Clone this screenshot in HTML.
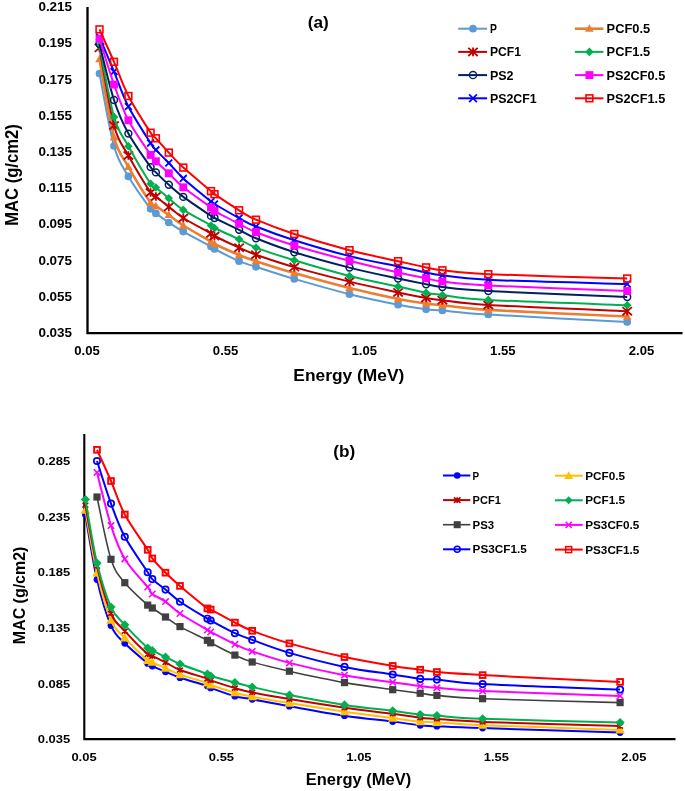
<!DOCTYPE html>
<html><head><meta charset="utf-8"><title>MAC vs Energy</title>
<style>
html,body{margin:0;padding:0;background:#fff;}
body{width:685px;height:791px;overflow:hidden;font-family:"Liberation Sans",sans-serif;}
svg{display:block;will-change:transform;}
text{font-family:"Liberation Sans",sans-serif;font-weight:bold;}
</style></head><body>
<svg width="685" height="791" viewBox="0 0 685 791">
<rect width="685" height="791" fill="#fff"/>
<path d="M87.5 7V333.1H682.5" fill="none" stroke="#000" stroke-width="2.3"/>
<path d="M84.3 434V739.1H675.5" fill="none" stroke="#000" stroke-width="2.1"/>
<path d="M99.5 73.5 C101.92 85.58 109.18 128.85 114 146 C118.82 163.15 122.3 165.93 128.4 176.4 C134.5 186.87 146.02 202.63 150.6 208.8 C155.18 214.97 152.87 211.12 155.9 213.4 C158.93 215.68 164.23 219.47 168.8 222.5 C173.37 225.53 176.27 227.6 183.3 231.6 C190.33 235.6 205.8 243.6 211 246.5 C216.2 249.4 209.82 246.55 214.5 249 C219.18 251.45 232.18 258.23 239.1 261.2 C246.02 264.17 246.8 263.85 256 266.8 C265.2 269.75 278.72 274.33 294.3 278.9 C309.88 283.47 332.2 289.9 349.5 294.2 C366.8 298.5 385.33 302.18 398.1 304.7 C410.87 307.22 418.72 308.33 426.1 309.3 C433.48 310.27 432.03 309.63 442.4 310.5 C452.77 311.37 457.5 312.6 488.3 314.5 C519.1 316.4 604.05 320.67 627.2 321.9" fill="none" stroke="#5B9BD5" stroke-width="2" stroke-linejoin="round"/>
<circle cx="99.5" cy="73.5" r="3.85" fill="#5B9BD5"/>
<circle cx="114" cy="146" r="3.85" fill="#5B9BD5"/>
<circle cx="128.4" cy="176.4" r="3.85" fill="#5B9BD5"/>
<circle cx="150.6" cy="208.8" r="3.85" fill="#5B9BD5"/>
<circle cx="155.9" cy="213.4" r="3.85" fill="#5B9BD5"/>
<circle cx="168.8" cy="222.5" r="3.85" fill="#5B9BD5"/>
<circle cx="183.3" cy="231.6" r="3.85" fill="#5B9BD5"/>
<circle cx="211" cy="246.5" r="3.85" fill="#5B9BD5"/>
<circle cx="214.5" cy="249" r="3.85" fill="#5B9BD5"/>
<circle cx="239.1" cy="261.2" r="3.85" fill="#5B9BD5"/>
<circle cx="256" cy="266.8" r="3.85" fill="#5B9BD5"/>
<circle cx="294.3" cy="278.9" r="3.85" fill="#5B9BD5"/>
<circle cx="349.5" cy="294.2" r="3.85" fill="#5B9BD5"/>
<circle cx="398.1" cy="304.7" r="3.85" fill="#5B9BD5"/>
<circle cx="426.1" cy="309.3" r="3.85" fill="#5B9BD5"/>
<circle cx="442.4" cy="310.5" r="3.85" fill="#5B9BD5"/>
<circle cx="488.3" cy="314.5" r="3.85" fill="#5B9BD5"/>
<circle cx="627.2" cy="321.9" r="3.85" fill="#5B9BD5"/>
<path d="M99.5 59.2 C101.92 72.2 109.18 119.27 114 137.2 C118.82 155.13 122.3 155.87 128.4 166.8 C134.5 177.73 146.02 196.25 150.6 202.8 C155.18 209.35 152.87 204.08 155.9 206.1 C158.93 208.12 164.23 211.67 168.8 214.9 C173.37 218.13 176.27 221.07 183.3 225.5 C190.33 229.93 205.8 238.42 211 241.5 C216.2 244.58 209.82 241.75 214.5 244 C219.18 246.25 232.18 252.13 239.1 255 C246.02 257.87 246.8 258.18 256 261.2 C265.2 264.22 278.72 268.62 294.3 273.1 C309.88 277.58 332.2 283.78 349.5 288.1 C366.8 292.42 385.33 296.42 398.1 299 C410.87 301.58 418.72 302.57 426.1 303.6 C433.48 304.63 432.03 304.15 442.4 305.2 C452.77 306.25 457.5 308.02 488.3 309.9 C519.1 311.78 604.05 315.4 627.2 316.5" fill="none" stroke="#ED7D31" stroke-width="2.6" stroke-linejoin="round"/>
<path d="M99.5 54.8L103.81 62.37L95.19 62.37Z" fill="#ED7D31"/>
<path d="M114 132.8L118.31 140.37L109.69 140.37Z" fill="#ED7D31"/>
<path d="M128.4 162.4L132.71 169.97L124.09 169.97Z" fill="#ED7D31"/>
<path d="M150.6 198.4L154.91 205.97L146.29 205.97Z" fill="#ED7D31"/>
<path d="M155.9 201.7L160.21 209.27L151.59 209.27Z" fill="#ED7D31"/>
<path d="M168.8 210.5L173.11 218.07L164.49 218.07Z" fill="#ED7D31"/>
<path d="M183.3 221.1L187.61 228.67L178.99 228.67Z" fill="#ED7D31"/>
<path d="M211 237.1L215.31 244.67L206.69 244.67Z" fill="#ED7D31"/>
<path d="M214.5 239.6L218.81 247.17L210.19 247.17Z" fill="#ED7D31"/>
<path d="M239.1 250.6L243.41 258.17L234.79 258.17Z" fill="#ED7D31"/>
<path d="M256 256.8L260.31 264.37L251.69 264.37Z" fill="#ED7D31"/>
<path d="M294.3 268.7L298.61 276.27L289.99 276.27Z" fill="#ED7D31"/>
<path d="M349.5 283.7L353.81 291.27L345.19 291.27Z" fill="#ED7D31"/>
<path d="M398.1 294.6L402.41 302.17L393.79 302.17Z" fill="#ED7D31"/>
<path d="M426.1 299.2L430.41 306.77L421.79 306.77Z" fill="#ED7D31"/>
<path d="M442.4 300.8L446.71 308.37L438.09 308.37Z" fill="#ED7D31"/>
<path d="M488.3 305.5L492.61 313.07L483.99 313.07Z" fill="#ED7D31"/>
<path d="M627.2 312.1L631.51 319.67L622.89 319.67Z" fill="#ED7D31"/>
<path d="M99.5 47.8 C101.92 60.75 109.18 107.55 114 125.5 C118.82 143.45 122.3 144.33 128.4 155.5 C134.5 166.67 146.02 185.67 150.6 192.5 C155.18 199.33 152.87 194.12 155.9 196.5 C158.93 198.88 164.23 203.22 168.8 206.8 C173.37 210.38 176.27 213.55 183.3 218 C190.33 222.45 205.8 230.5 211 233.5 C216.2 236.5 209.82 233.63 214.5 236 C219.18 238.37 232.18 244.58 239.1 247.7 C246.02 250.82 246.8 251.47 256 254.7 C265.2 257.93 278.72 262.62 294.3 267.1 C309.88 271.58 332.2 277.38 349.5 281.6 C366.8 285.82 385.33 289.67 398.1 292.4 C410.87 295.13 418.72 296.7 426.1 298 C433.48 299.3 432.03 299.03 442.4 300.2 C452.77 301.37 457.5 303.17 488.3 305 C519.1 306.83 604.05 310.17 627.2 311.2" fill="none" stroke="#C00000" stroke-width="2" stroke-linejoin="round"/>
<path d="M94.75 43.76L104.25 51.84M94.75 51.84L104.25 43.76M99.5 43.52L99.5 52.07" stroke="#C00000" stroke-width="1.8" fill="none"/>
<path d="M109.25 121.46L118.75 129.54M109.25 129.54L118.75 121.46M114 121.22L114 129.78" stroke="#C00000" stroke-width="1.8" fill="none"/>
<path d="M123.65 151.46L133.15 159.54M123.65 159.54L133.15 151.46M128.4 151.22L128.4 159.78" stroke="#C00000" stroke-width="1.8" fill="none"/>
<path d="M145.85 188.46L155.35 196.54M145.85 196.54L155.35 188.46M150.6 188.22L150.6 196.78" stroke="#C00000" stroke-width="1.8" fill="none"/>
<path d="M151.15 192.46L160.65 200.54M151.15 200.54L160.65 192.46M155.9 192.22L155.9 200.78" stroke="#C00000" stroke-width="1.8" fill="none"/>
<path d="M164.05 202.76L173.55 210.84M164.05 210.84L173.55 202.76M168.8 202.53L168.8 211.08" stroke="#C00000" stroke-width="1.8" fill="none"/>
<path d="M178.55 213.96L188.05 222.04M178.55 222.04L188.05 213.96M183.3 213.72L183.3 222.28" stroke="#C00000" stroke-width="1.8" fill="none"/>
<path d="M206.25 229.46L215.75 237.54M206.25 237.54L215.75 229.46M211 229.22L211 237.78" stroke="#C00000" stroke-width="1.8" fill="none"/>
<path d="M209.75 231.96L219.25 240.04M209.75 240.04L219.25 231.96M214.5 231.72L214.5 240.28" stroke="#C00000" stroke-width="1.8" fill="none"/>
<path d="M234.35 243.66L243.85 251.74M234.35 251.74L243.85 243.66M239.1 243.42L239.1 251.97" stroke="#C00000" stroke-width="1.8" fill="none"/>
<path d="M251.25 250.66L260.75 258.74M251.25 258.74L260.75 250.66M256 250.42L256 258.97" stroke="#C00000" stroke-width="1.8" fill="none"/>
<path d="M289.55 263.06L299.05 271.14M289.55 271.14L299.05 263.06M294.3 262.83L294.3 271.38" stroke="#C00000" stroke-width="1.8" fill="none"/>
<path d="M344.75 277.56L354.25 285.64M344.75 285.64L354.25 277.56M349.5 277.33L349.5 285.88" stroke="#C00000" stroke-width="1.8" fill="none"/>
<path d="M393.35 288.36L402.85 296.44M393.35 296.44L402.85 288.36M398.1 288.12L398.1 296.67" stroke="#C00000" stroke-width="1.8" fill="none"/>
<path d="M421.35 293.96L430.85 302.04M421.35 302.04L430.85 293.96M426.1 293.73L426.1 302.27" stroke="#C00000" stroke-width="1.8" fill="none"/>
<path d="M437.65 296.16L447.15 304.24M437.65 304.24L447.15 296.16M442.4 295.93L442.4 304.47" stroke="#C00000" stroke-width="1.8" fill="none"/>
<path d="M483.55 300.96L493.05 309.04M483.55 309.04L493.05 300.96M488.3 300.73L488.3 309.27" stroke="#C00000" stroke-width="1.8" fill="none"/>
<path d="M622.45 307.16L631.95 315.24M622.45 315.24L631.95 307.16M627.2 306.93L627.2 315.47" stroke="#C00000" stroke-width="1.8" fill="none"/>
<path d="M99.5 45.5 C101.92 57.4 109.18 100.12 114 116.9 C118.82 133.68 122.3 135.07 128.4 146.2 C134.5 157.33 146.02 176.82 150.6 183.7 C155.18 190.58 152.87 185.07 155.9 187.5 C158.93 189.93 164.23 194.57 168.8 198.3 C173.37 202.03 176.27 205.37 183.3 209.9 C190.33 214.43 205.8 222.48 211 225.5 C216.2 228.52 209.82 225.7 214.5 228 C219.18 230.3 232.18 236.03 239.1 239.3 C246.02 242.57 246.8 244.1 256 247.6 C265.2 251.1 278.72 255.57 294.3 260.3 C309.88 265.03 332.2 271.62 349.5 276 C366.8 280.38 385.33 283.8 398.1 286.6 C410.87 289.4 418.72 291.4 426.1 292.8 C433.48 294.2 432.03 293.82 442.4 295 C452.77 296.18 457.5 298.2 488.3 299.9 C519.1 301.6 604.05 304.32 627.2 305.2" fill="none" stroke="#00B050" stroke-width="2" stroke-linejoin="round"/>
<path d="M99.5 41.2L103.8 45.5L99.5 49.8L95.2 45.5Z" fill="#00B050"/>
<path d="M114 112.6L118.3 116.9L114 121.2L109.7 116.9Z" fill="#00B050"/>
<path d="M128.4 141.9L132.7 146.2L128.4 150.5L124.1 146.2Z" fill="#00B050"/>
<path d="M150.6 179.4L154.9 183.7L150.6 188L146.3 183.7Z" fill="#00B050"/>
<path d="M155.9 183.2L160.2 187.5L155.9 191.8L151.6 187.5Z" fill="#00B050"/>
<path d="M168.8 194L173.1 198.3L168.8 202.6L164.5 198.3Z" fill="#00B050"/>
<path d="M183.3 205.6L187.6 209.9L183.3 214.2L179 209.9Z" fill="#00B050"/>
<path d="M211 221.2L215.3 225.5L211 229.8L206.7 225.5Z" fill="#00B050"/>
<path d="M214.5 223.7L218.8 228L214.5 232.3L210.2 228Z" fill="#00B050"/>
<path d="M239.1 235L243.4 239.3L239.1 243.6L234.8 239.3Z" fill="#00B050"/>
<path d="M256 243.3L260.3 247.6L256 251.9L251.7 247.6Z" fill="#00B050"/>
<path d="M294.3 256L298.6 260.3L294.3 264.6L290 260.3Z" fill="#00B050"/>
<path d="M349.5 271.7L353.8 276L349.5 280.3L345.2 276Z" fill="#00B050"/>
<path d="M398.1 282.3L402.4 286.6L398.1 290.9L393.8 286.6Z" fill="#00B050"/>
<path d="M426.1 288.5L430.4 292.8L426.1 297.1L421.8 292.8Z" fill="#00B050"/>
<path d="M442.4 290.7L446.7 295L442.4 299.3L438.1 295Z" fill="#00B050"/>
<path d="M488.3 295.6L492.6 299.9L488.3 304.2L484 299.9Z" fill="#00B050"/>
<path d="M627.2 300.9L631.5 305.2L627.2 309.5L622.9 305.2Z" fill="#00B050"/>
<path d="M99.5 44 C101.92 53.33 109.18 85.07 114 100 C118.82 114.93 122.3 122.42 128.4 133.6 C134.5 144.78 146.02 160.63 150.6 167.1 C155.18 173.57 152.87 169.45 155.9 172.4 C158.93 175.35 164.23 180.72 168.8 184.8 C173.37 188.88 176.27 191.72 183.3 196.9 C190.33 202.08 205.8 212.38 211 215.9 C216.2 219.42 209.82 215.68 214.5 218 C219.18 220.32 232.18 226.42 239.1 229.8 C246.02 233.18 246.8 234.57 256 238.3 C265.2 242.03 278.72 247.32 294.3 252.2 C309.88 257.08 332.2 263.2 349.5 267.6 C366.8 272 385.33 275.83 398.1 278.6 C410.87 281.37 418.72 282.78 426.1 284.2 C433.48 285.62 432.03 285.97 442.4 287.1 C452.77 288.23 457.5 289.35 488.3 291 C519.1 292.65 604.05 296 627.2 297" fill="none" stroke="#002060" stroke-width="2" stroke-linejoin="round"/>
<circle cx="99.5" cy="44" r="3.45" fill="none" stroke="#002060" stroke-width="1.5"/>
<circle cx="114" cy="100" r="3.45" fill="none" stroke="#002060" stroke-width="1.5"/>
<circle cx="128.4" cy="133.6" r="3.45" fill="none" stroke="#002060" stroke-width="1.5"/>
<circle cx="150.6" cy="167.1" r="3.45" fill="none" stroke="#002060" stroke-width="1.5"/>
<circle cx="155.9" cy="172.4" r="3.45" fill="none" stroke="#002060" stroke-width="1.5"/>
<circle cx="168.8" cy="184.8" r="3.45" fill="none" stroke="#002060" stroke-width="1.5"/>
<circle cx="183.3" cy="196.9" r="3.45" fill="none" stroke="#002060" stroke-width="1.5"/>
<circle cx="211" cy="215.9" r="3.45" fill="none" stroke="#002060" stroke-width="1.5"/>
<circle cx="214.5" cy="218" r="3.45" fill="none" stroke="#002060" stroke-width="1.5"/>
<circle cx="239.1" cy="229.8" r="3.45" fill="none" stroke="#002060" stroke-width="1.5"/>
<circle cx="256" cy="238.3" r="3.45" fill="none" stroke="#002060" stroke-width="1.5"/>
<circle cx="294.3" cy="252.2" r="3.45" fill="none" stroke="#002060" stroke-width="1.5"/>
<circle cx="349.5" cy="267.6" r="3.45" fill="none" stroke="#002060" stroke-width="1.5"/>
<circle cx="398.1" cy="278.6" r="3.45" fill="none" stroke="#002060" stroke-width="1.5"/>
<circle cx="426.1" cy="284.2" r="3.45" fill="none" stroke="#002060" stroke-width="1.5"/>
<circle cx="442.4" cy="287.1" r="3.45" fill="none" stroke="#002060" stroke-width="1.5"/>
<circle cx="488.3" cy="291" r="3.45" fill="none" stroke="#002060" stroke-width="1.5"/>
<circle cx="627.2" cy="297" r="3.45" fill="none" stroke="#002060" stroke-width="1.5"/>
<path d="M99.5 37 C101.92 42.77 109.18 60.02 114 71.6 C118.82 83.18 122.3 94.58 128.4 106.5 C134.5 118.42 146.02 135.87 150.6 143.1 C155.18 150.33 152.87 146.58 155.9 149.9 C158.93 153.22 164.23 158.25 168.8 163 C173.37 167.75 176.27 171.98 183.3 178.4 C190.33 184.82 205.8 197.23 211 201.5 C216.2 205.77 209.82 201.23 214.5 204 C219.18 206.77 232.18 214.35 239.1 218.1 C246.02 221.85 246.8 222.82 256 226.5 C265.2 230.18 278.72 235.27 294.3 240.2 C309.88 245.13 332.2 251.72 349.5 256.1 C366.8 260.48 385.33 263.77 398.1 266.5 C410.87 269.23 418.72 271.03 426.1 272.5 C433.48 273.97 432.03 274.08 442.4 275.3 C452.77 276.52 457.5 278.35 488.3 279.8 C519.1 281.25 604.05 283.3 627.2 284" fill="none" stroke="#0000FF" stroke-width="2" stroke-linejoin="round"/>
<path d="M96.1 33.6L102.9 40.4M96.1 40.4L102.9 33.6" stroke="#0000FF" stroke-width="1.8" fill="none"/>
<path d="M110.6 68.2L117.4 75M110.6 75L117.4 68.2" stroke="#0000FF" stroke-width="1.8" fill="none"/>
<path d="M125 103.1L131.8 109.9M125 109.9L131.8 103.1" stroke="#0000FF" stroke-width="1.8" fill="none"/>
<path d="M147.2 139.7L154 146.5M147.2 146.5L154 139.7" stroke="#0000FF" stroke-width="1.8" fill="none"/>
<path d="M152.5 146.5L159.3 153.3M152.5 153.3L159.3 146.5" stroke="#0000FF" stroke-width="1.8" fill="none"/>
<path d="M165.4 159.6L172.2 166.4M165.4 166.4L172.2 159.6" stroke="#0000FF" stroke-width="1.8" fill="none"/>
<path d="M179.9 175L186.7 181.8M179.9 181.8L186.7 175" stroke="#0000FF" stroke-width="1.8" fill="none"/>
<path d="M207.6 198.1L214.4 204.9M207.6 204.9L214.4 198.1" stroke="#0000FF" stroke-width="1.8" fill="none"/>
<path d="M211.1 200.6L217.9 207.4M211.1 207.4L217.9 200.6" stroke="#0000FF" stroke-width="1.8" fill="none"/>
<path d="M235.7 214.7L242.5 221.5M235.7 221.5L242.5 214.7" stroke="#0000FF" stroke-width="1.8" fill="none"/>
<path d="M252.6 223.1L259.4 229.9M252.6 229.9L259.4 223.1" stroke="#0000FF" stroke-width="1.8" fill="none"/>
<path d="M290.9 236.8L297.7 243.6M290.9 243.6L297.7 236.8" stroke="#0000FF" stroke-width="1.8" fill="none"/>
<path d="M346.1 252.7L352.9 259.5M346.1 259.5L352.9 252.7" stroke="#0000FF" stroke-width="1.8" fill="none"/>
<path d="M394.7 263.1L401.5 269.9M394.7 269.9L401.5 263.1" stroke="#0000FF" stroke-width="1.8" fill="none"/>
<path d="M422.7 269.1L429.5 275.9M422.7 275.9L429.5 269.1" stroke="#0000FF" stroke-width="1.8" fill="none"/>
<path d="M439 271.9L445.8 278.7M439 278.7L445.8 271.9" stroke="#0000FF" stroke-width="1.8" fill="none"/>
<path d="M484.9 276.4L491.7 283.2M484.9 283.2L491.7 276.4" stroke="#0000FF" stroke-width="1.8" fill="none"/>
<path d="M623.8 280.6L630.6 287.4M623.8 287.4L630.6 280.6" stroke="#0000FF" stroke-width="1.8" fill="none"/>
<path d="M99.5 38.8 C101.92 46.43 109.18 71.02 114 84.6 C118.82 98.18 122.3 108.58 128.4 120.3 C134.5 132.02 146.02 148.07 150.6 154.9 C155.18 161.73 152.87 158.23 155.9 161.3 C158.93 164.37 164.23 168.97 168.8 173.3 C173.37 177.63 176.27 181.6 183.3 187.3 C190.33 193 205.8 203.55 211 207.5 C216.2 211.45 209.82 208.28 214.5 211 C219.18 213.72 232.18 220.27 239.1 223.8 C246.02 227.33 246.8 228.58 256 232.2 C265.2 235.82 278.72 240.73 294.3 245.5 C309.88 250.27 332.2 256.3 349.5 260.8 C366.8 265.3 385.33 269.58 398.1 272.5 C410.87 275.42 418.72 276.8 426.1 278.3 C433.48 279.8 432.03 280.3 442.4 281.5 C452.77 282.7 457.5 283.92 488.3 285.5 C519.1 287.08 604.05 290.08 627.2 291" fill="none" stroke="#FF00FF" stroke-width="2" stroke-linejoin="round"/>
<rect x="95.55" y="34.85" width="7.9" height="7.9" fill="#FF00FF"/>
<rect x="110.05" y="80.65" width="7.9" height="7.9" fill="#FF00FF"/>
<rect x="124.45" y="116.35" width="7.9" height="7.9" fill="#FF00FF"/>
<rect x="146.65" y="150.95" width="7.9" height="7.9" fill="#FF00FF"/>
<rect x="151.95" y="157.35" width="7.9" height="7.9" fill="#FF00FF"/>
<rect x="164.85" y="169.35" width="7.9" height="7.9" fill="#FF00FF"/>
<rect x="179.35" y="183.35" width="7.9" height="7.9" fill="#FF00FF"/>
<rect x="207.05" y="203.55" width="7.9" height="7.9" fill="#FF00FF"/>
<rect x="210.55" y="207.05" width="7.9" height="7.9" fill="#FF00FF"/>
<rect x="235.15" y="219.85" width="7.9" height="7.9" fill="#FF00FF"/>
<rect x="252.05" y="228.25" width="7.9" height="7.9" fill="#FF00FF"/>
<rect x="290.35" y="241.55" width="7.9" height="7.9" fill="#FF00FF"/>
<rect x="345.55" y="256.85" width="7.9" height="7.9" fill="#FF00FF"/>
<rect x="394.15" y="268.55" width="7.9" height="7.9" fill="#FF00FF"/>
<rect x="422.15" y="274.35" width="7.9" height="7.9" fill="#FF00FF"/>
<rect x="438.45" y="277.55" width="7.9" height="7.9" fill="#FF00FF"/>
<rect x="484.35" y="281.55" width="7.9" height="7.9" fill="#FF00FF"/>
<rect x="623.25" y="287.05" width="7.9" height="7.9" fill="#FF00FF"/>
<path d="M99.5 29.4 C101.92 34.8 109.18 50.7 114 61.8 C118.82 72.9 122.3 84.18 128.4 96 C134.5 107.82 146.02 125.65 150.6 132.7 C155.18 139.75 152.87 134.98 155.9 138.3 C158.93 141.62 164.23 147.72 168.8 152.6 C173.37 157.48 176.27 161.18 183.3 167.6 C190.33 174.02 205.8 186.67 211 191.1 C216.2 195.53 209.82 191 214.5 194.2 C219.18 197.4 232.18 206.05 239.1 210.3 C246.02 214.55 246.8 215.75 256 219.7 C265.2 223.65 278.72 228.92 294.3 234 C309.88 239.08 332.2 245.67 349.5 250.2 C366.8 254.73 385.33 258.33 398.1 261.2 C410.87 264.07 418.72 265.88 426.1 267.4 C433.48 268.92 432.03 269.17 442.4 270.3 C452.77 271.43 457.5 272.83 488.3 274.2 C519.1 275.57 604.05 277.78 627.2 278.5" fill="none" stroke="#FF0000" stroke-width="2" stroke-linejoin="round"/>
<rect x="96.1" y="26" width="6.8" height="6.8" fill="none" stroke="#FF0000" stroke-width="1.6"/>
<rect x="110.6" y="58.4" width="6.8" height="6.8" fill="none" stroke="#FF0000" stroke-width="1.6"/>
<rect x="125" y="92.6" width="6.8" height="6.8" fill="none" stroke="#FF0000" stroke-width="1.6"/>
<rect x="147.2" y="129.3" width="6.8" height="6.8" fill="none" stroke="#FF0000" stroke-width="1.6"/>
<rect x="152.5" y="134.9" width="6.8" height="6.8" fill="none" stroke="#FF0000" stroke-width="1.6"/>
<rect x="165.4" y="149.2" width="6.8" height="6.8" fill="none" stroke="#FF0000" stroke-width="1.6"/>
<rect x="179.9" y="164.2" width="6.8" height="6.8" fill="none" stroke="#FF0000" stroke-width="1.6"/>
<rect x="207.6" y="187.7" width="6.8" height="6.8" fill="none" stroke="#FF0000" stroke-width="1.6"/>
<rect x="211.1" y="190.8" width="6.8" height="6.8" fill="none" stroke="#FF0000" stroke-width="1.6"/>
<rect x="235.7" y="206.9" width="6.8" height="6.8" fill="none" stroke="#FF0000" stroke-width="1.6"/>
<rect x="252.6" y="216.3" width="6.8" height="6.8" fill="none" stroke="#FF0000" stroke-width="1.6"/>
<rect x="290.9" y="230.6" width="6.8" height="6.8" fill="none" stroke="#FF0000" stroke-width="1.6"/>
<rect x="346.1" y="246.8" width="6.8" height="6.8" fill="none" stroke="#FF0000" stroke-width="1.6"/>
<rect x="394.7" y="257.8" width="6.8" height="6.8" fill="none" stroke="#FF0000" stroke-width="1.6"/>
<rect x="422.7" y="264" width="6.8" height="6.8" fill="none" stroke="#FF0000" stroke-width="1.6"/>
<rect x="439" y="266.9" width="6.8" height="6.8" fill="none" stroke="#FF0000" stroke-width="1.6"/>
<rect x="484.9" y="270.8" width="6.8" height="6.8" fill="none" stroke="#FF0000" stroke-width="1.6"/>
<rect x="623.8" y="275.1" width="6.8" height="6.8" fill="none" stroke="#FF0000" stroke-width="1.6"/>
<path d="M85.4 514.6 C87.33 525.43 92.73 561.1 97 579.6 C101.27 598.1 106.37 614.98 111 625.6 C115.63 636.22 118.68 637 124.8 643.3 C130.92 649.6 143.12 659.6 147.7 663.4 C152.28 667.2 149.33 664.7 152.3 666.1 C155.27 667.5 160.88 669.87 165.5 671.8 C170.12 673.73 173.02 675.35 180 677.7 C186.98 680.05 202.28 684.2 207.4 685.9 C212.52 687.6 206.12 686.18 210.7 687.9 C215.28 689.62 227.98 694.3 234.9 696.2 C241.82 698.1 243.12 697.63 252.2 699.3 C261.28 700.97 274.02 703.47 289.4 706.2 C304.78 708.93 327.28 713.13 344.5 715.7 C361.72 718.27 380.08 720 392.7 721.6 C405.32 723.2 412.83 724.53 420.2 725.3 C427.57 726.07 426.5 725.73 436.9 726.2 C447.3 726.67 452.07 727.03 482.6 728.1 C513.13 729.17 597.18 731.85 620.1 732.6" fill="none" stroke="#0000FF" stroke-width="2" stroke-linejoin="round"/>
<circle cx="85.4" cy="514.6" r="3.4" fill="#0000FF"/>
<circle cx="97" cy="579.6" r="3.4" fill="#0000FF"/>
<circle cx="111" cy="625.6" r="3.4" fill="#0000FF"/>
<circle cx="124.8" cy="643.3" r="3.4" fill="#0000FF"/>
<circle cx="147.7" cy="663.4" r="3.4" fill="#0000FF"/>
<circle cx="152.3" cy="666.1" r="3.4" fill="#0000FF"/>
<circle cx="165.5" cy="671.8" r="3.4" fill="#0000FF"/>
<circle cx="180" cy="677.7" r="3.4" fill="#0000FF"/>
<circle cx="207.4" cy="685.9" r="3.4" fill="#0000FF"/>
<circle cx="210.7" cy="687.9" r="3.4" fill="#0000FF"/>
<circle cx="234.9" cy="696.2" r="3.4" fill="#0000FF"/>
<circle cx="252.2" cy="699.3" r="3.4" fill="#0000FF"/>
<circle cx="289.4" cy="706.2" r="3.4" fill="#0000FF"/>
<circle cx="344.5" cy="715.7" r="3.4" fill="#0000FF"/>
<circle cx="392.7" cy="721.6" r="3.4" fill="#0000FF"/>
<circle cx="420.2" cy="725.3" r="3.4" fill="#0000FF"/>
<circle cx="436.9" cy="726.2" r="3.4" fill="#0000FF"/>
<circle cx="482.6" cy="728.1" r="3.4" fill="#0000FF"/>
<circle cx="620.1" cy="732.6" r="3.4" fill="#0000FF"/>
<path d="M85.4 510.3 C87.33 520.73 92.73 554.57 97 572.9 C101.27 591.23 106.37 609.45 111 620.3 C115.63 631.15 118.68 631.32 124.8 638 C130.92 644.68 143.12 656.35 147.7 660.4 C152.28 664.45 149.33 661 152.3 662.3 C155.27 663.6 160.88 666.15 165.5 668.2 C170.12 670.25 173.02 672.13 180 674.6 C186.98 677.07 202.28 681.27 207.4 683 C212.52 684.73 206.12 683.38 210.7 685 C215.28 686.62 227.98 690.77 234.9 692.7 C241.82 694.63 243.12 694.87 252.2 696.6 C261.28 698.33 274.02 700.58 289.4 703.1 C304.78 705.62 327.28 709.2 344.5 711.7 C361.72 714.2 380.08 716.43 392.7 718.1 C405.32 719.77 412.83 720.98 420.2 721.7 C427.57 722.42 426.5 721.82 436.9 722.4 C447.3 722.98 452.07 723.95 482.6 725.2 C513.13 726.45 597.18 729.12 620.1 729.9" fill="none" stroke="#FFC000" stroke-width="2" stroke-linejoin="round"/>
<path d="M85.4 505.4L90.2 513.83L80.6 513.83Z" fill="#FFC000"/>
<path d="M97 568L101.8 576.43L92.2 576.43Z" fill="#FFC000"/>
<path d="M111 615.4L115.8 623.83L106.2 623.83Z" fill="#FFC000"/>
<path d="M124.8 633.1L129.6 641.53L120 641.53Z" fill="#FFC000"/>
<path d="M147.7 655.5L152.5 663.93L142.9 663.93Z" fill="#FFC000"/>
<path d="M152.3 657.4L157.1 665.83L147.5 665.83Z" fill="#FFC000"/>
<path d="M165.5 663.3L170.3 671.73L160.7 671.73Z" fill="#FFC000"/>
<path d="M180 669.7L184.8 678.13L175.2 678.13Z" fill="#FFC000"/>
<path d="M207.4 678.1L212.2 686.53L202.6 686.53Z" fill="#FFC000"/>
<path d="M210.7 680.1L215.5 688.53L205.9 688.53Z" fill="#FFC000"/>
<path d="M234.9 687.8L239.7 696.23L230.1 696.23Z" fill="#FFC000"/>
<path d="M252.2 691.7L257 700.13L247.4 700.13Z" fill="#FFC000"/>
<path d="M289.4 698.2L294.2 706.63L284.6 706.63Z" fill="#FFC000"/>
<path d="M344.5 706.8L349.3 715.23L339.7 715.23Z" fill="#FFC000"/>
<path d="M392.7 713.2L397.5 721.63L387.9 721.63Z" fill="#FFC000"/>
<path d="M420.2 716.8L425 725.23L415.4 725.23Z" fill="#FFC000"/>
<path d="M436.9 717.5L441.7 725.93L432.1 725.93Z" fill="#FFC000"/>
<path d="M482.6 720.3L487.4 728.73L477.8 728.73Z" fill="#FFC000"/>
<path d="M620.1 725L624.9 733.43L615.3 733.43Z" fill="#FFC000"/>
<path d="M85.4 505.2 C87.33 515.35 92.73 548.05 97 566.1 C101.27 584.15 106.37 602.67 111 613.5 C115.63 624.33 118.68 624.3 124.8 631.1 C130.92 637.9 143.12 650.12 147.7 654.3 C152.28 658.48 149.33 654.85 152.3 656.2 C155.27 657.55 160.88 660.1 165.5 662.4 C170.12 664.7 173.02 667.3 180 670 C186.98 672.7 202.28 676.87 207.4 678.6 C212.52 680.33 206.12 678.82 210.7 680.4 C215.28 681.98 227.98 686.1 234.9 688.1 C241.82 690.1 243.12 690.57 252.2 692.4 C261.28 694.23 274.02 696.53 289.4 699.1 C304.78 701.67 327.28 705.35 344.5 707.8 C361.72 710.25 380.08 712.13 392.7 713.8 C405.32 715.47 412.83 716.95 420.2 717.8 C427.57 718.65 426.5 718.22 436.9 718.9 C447.3 719.58 452.07 720.7 482.6 721.9 C513.13 723.1 597.18 725.4 620.1 726.1" fill="none" stroke="#C00000" stroke-width="2" stroke-linejoin="round"/>
<path d="M82.5 502.74L88.3 507.66M82.5 507.66L88.3 502.74M85.4 502.59L85.4 507.81" stroke="#C00000" stroke-width="1.6" fill="none"/>
<path d="M94.1 563.63L99.9 568.57M94.1 568.57L99.9 563.63M97 563.49L97 568.71" stroke="#C00000" stroke-width="1.6" fill="none"/>
<path d="M108.1 611.03L113.9 615.97M108.1 615.97L113.9 611.03M111 610.89L111 616.11" stroke="#C00000" stroke-width="1.6" fill="none"/>
<path d="M121.9 628.63L127.7 633.57M121.9 633.57L127.7 628.63M124.8 628.49L124.8 633.71" stroke="#C00000" stroke-width="1.6" fill="none"/>
<path d="M144.8 651.83L150.6 656.76M144.8 656.76L150.6 651.83M147.7 651.69L147.7 656.91" stroke="#C00000" stroke-width="1.6" fill="none"/>
<path d="M149.4 653.74L155.2 658.67M149.4 658.67L155.2 653.74M152.3 653.59L152.3 658.81" stroke="#C00000" stroke-width="1.6" fill="none"/>
<path d="M162.6 659.93L168.4 664.87M162.6 664.87L168.4 659.93M165.5 659.79L165.5 665.01" stroke="#C00000" stroke-width="1.6" fill="none"/>
<path d="M177.1 667.53L182.9 672.47M177.1 672.47L182.9 667.53M180 667.39L180 672.61" stroke="#C00000" stroke-width="1.6" fill="none"/>
<path d="M204.5 676.13L210.3 681.07M204.5 681.07L210.3 676.13M207.4 675.99L207.4 681.21" stroke="#C00000" stroke-width="1.6" fill="none"/>
<path d="M207.8 677.93L213.6 682.87M207.8 682.87L213.6 677.93M210.7 677.79L210.7 683.01" stroke="#C00000" stroke-width="1.6" fill="none"/>
<path d="M232 685.63L237.8 690.57M232 690.57L237.8 685.63M234.9 685.49L234.9 690.71" stroke="#C00000" stroke-width="1.6" fill="none"/>
<path d="M249.3 689.93L255.1 694.87M249.3 694.87L255.1 689.93M252.2 689.79L252.2 695.01" stroke="#C00000" stroke-width="1.6" fill="none"/>
<path d="M286.5 696.63L292.3 701.57M286.5 701.57L292.3 696.63M289.4 696.49L289.4 701.71" stroke="#C00000" stroke-width="1.6" fill="none"/>
<path d="M341.6 705.33L347.4 710.26M341.6 710.26L347.4 705.33M344.5 705.19L344.5 710.41" stroke="#C00000" stroke-width="1.6" fill="none"/>
<path d="M389.8 711.33L395.6 716.26M389.8 716.26L395.6 711.33M392.7 711.19L392.7 716.41" stroke="#C00000" stroke-width="1.6" fill="none"/>
<path d="M417.3 715.33L423.1 720.26M417.3 720.26L423.1 715.33M420.2 715.19L420.2 720.41" stroke="#C00000" stroke-width="1.6" fill="none"/>
<path d="M434 716.43L439.8 721.37M434 721.37L439.8 716.43M436.9 716.29L436.9 721.51" stroke="#C00000" stroke-width="1.6" fill="none"/>
<path d="M479.7 719.43L485.5 724.37M479.7 724.37L485.5 719.43M482.6 719.29L482.6 724.51" stroke="#C00000" stroke-width="1.6" fill="none"/>
<path d="M617.2 723.63L623 728.57M617.2 728.57L623 723.63M620.1 723.49L620.1 728.71" stroke="#C00000" stroke-width="1.6" fill="none"/>
<path d="M85.4 499.5 C87.33 510.1 92.73 545.17 97 563.1 C101.27 581.03 106.37 596.82 111 607.1 C115.63 617.38 118.68 617.97 124.8 624.8 C130.92 631.63 143.12 643.78 147.7 648.1 C152.28 652.42 149.33 649.22 152.3 650.7 C155.27 652.18 160.88 654.78 165.5 657 C170.12 659.22 173.02 661.17 180 664 C186.98 666.83 202.28 672 207.4 674 C212.52 676 206.12 674.58 210.7 676 C215.28 677.42 227.98 680.67 234.9 682.5 C241.82 684.33 243.12 684.9 252.2 687 C261.28 689.1 274.02 692.12 289.4 695.1 C304.78 698.08 327.28 702.28 344.5 704.9 C361.72 707.52 380.08 709.18 392.7 710.8 C405.32 712.42 412.83 713.8 420.2 714.6 C427.57 715.4 426.5 714.9 436.9 715.6 C447.3 716.3 452.07 717.65 482.6 718.8 C513.13 719.95 597.18 721.88 620.1 722.5" fill="none" stroke="#00B050" stroke-width="2" stroke-linejoin="round"/>
<path d="M85.4 494.9L90 499.5L85.4 504.1L80.8 499.5Z" fill="#00B050"/>
<path d="M97 558.5L101.6 563.1L97 567.7L92.4 563.1Z" fill="#00B050"/>
<path d="M111 602.5L115.6 607.1L111 611.7L106.4 607.1Z" fill="#00B050"/>
<path d="M124.8 620.2L129.4 624.8L124.8 629.4L120.2 624.8Z" fill="#00B050"/>
<path d="M147.7 643.5L152.3 648.1L147.7 652.7L143.1 648.1Z" fill="#00B050"/>
<path d="M152.3 646.1L156.9 650.7L152.3 655.3L147.7 650.7Z" fill="#00B050"/>
<path d="M165.5 652.4L170.1 657L165.5 661.6L160.9 657Z" fill="#00B050"/>
<path d="M180 659.4L184.6 664L180 668.6L175.4 664Z" fill="#00B050"/>
<path d="M207.4 669.4L212 674L207.4 678.6L202.8 674Z" fill="#00B050"/>
<path d="M210.7 671.4L215.3 676L210.7 680.6L206.1 676Z" fill="#00B050"/>
<path d="M234.9 677.9L239.5 682.5L234.9 687.1L230.3 682.5Z" fill="#00B050"/>
<path d="M252.2 682.4L256.8 687L252.2 691.6L247.6 687Z" fill="#00B050"/>
<path d="M289.4 690.5L294 695.1L289.4 699.7L284.8 695.1Z" fill="#00B050"/>
<path d="M344.5 700.3L349.1 704.9L344.5 709.5L339.9 704.9Z" fill="#00B050"/>
<path d="M392.7 706.2L397.3 710.8L392.7 715.4L388.1 710.8Z" fill="#00B050"/>
<path d="M420.2 710L424.8 714.6L420.2 719.2L415.6 714.6Z" fill="#00B050"/>
<path d="M436.9 711L441.5 715.6L436.9 720.2L432.3 715.6Z" fill="#00B050"/>
<path d="M482.6 714.2L487.2 718.8L482.6 723.4L478 718.8Z" fill="#00B050"/>
<path d="M620.1 717.9L624.7 722.5L620.1 727.1L615.5 722.5Z" fill="#00B050"/>
<path d="M97 497 C99.33 507.38 106.37 545.02 111 559.3 C115.63 573.58 118.68 575.07 124.8 582.7 C130.92 590.33 143.12 600.88 147.7 605.1 C152.28 609.32 149.33 606.02 152.3 608 C155.27 609.98 160.88 613.9 165.5 617 C170.12 620.1 173.02 622.72 180 626.6 C186.98 630.48 202.28 637.6 207.4 640.3 C212.52 643 206.12 640.33 210.7 642.8 C215.28 645.27 227.98 651.9 234.9 655.1 C241.82 658.3 243.12 659.32 252.2 662 C261.28 664.68 274.02 667.77 289.4 671.2 C304.78 674.63 327.28 679.52 344.5 682.6 C361.72 685.68 380.08 687.92 392.7 689.7 C405.32 691.48 412.83 692.35 420.2 693.3 C427.57 694.25 426.5 694.5 436.9 695.4 C447.3 696.3 452.07 697.5 482.6 698.7 C513.13 699.9 597.18 701.95 620.1 702.6" fill="none" stroke="#404040" stroke-width="1.6" stroke-linejoin="round"/>
<rect x="93.4" y="493.4" width="7.2" height="7.2" fill="#404040"/>
<rect x="107.4" y="555.7" width="7.2" height="7.2" fill="#404040"/>
<rect x="121.2" y="579.1" width="7.2" height="7.2" fill="#404040"/>
<rect x="144.1" y="601.5" width="7.2" height="7.2" fill="#404040"/>
<rect x="148.7" y="604.4" width="7.2" height="7.2" fill="#404040"/>
<rect x="161.9" y="613.4" width="7.2" height="7.2" fill="#404040"/>
<rect x="176.4" y="623" width="7.2" height="7.2" fill="#404040"/>
<rect x="203.8" y="636.7" width="7.2" height="7.2" fill="#404040"/>
<rect x="207.1" y="639.2" width="7.2" height="7.2" fill="#404040"/>
<rect x="231.3" y="651.5" width="7.2" height="7.2" fill="#404040"/>
<rect x="248.6" y="658.4" width="7.2" height="7.2" fill="#404040"/>
<rect x="285.8" y="667.6" width="7.2" height="7.2" fill="#404040"/>
<rect x="340.9" y="679" width="7.2" height="7.2" fill="#404040"/>
<rect x="389.1" y="686.1" width="7.2" height="7.2" fill="#404040"/>
<rect x="416.6" y="689.7" width="7.2" height="7.2" fill="#404040"/>
<rect x="433.3" y="691.8" width="7.2" height="7.2" fill="#404040"/>
<rect x="479" y="695.1" width="7.2" height="7.2" fill="#404040"/>
<rect x="616.5" y="699" width="7.2" height="7.2" fill="#404040"/>
<path d="M97 472.4 C99.33 481.27 106.37 511.18 111 525.6 C115.63 540.02 118.68 548.67 124.8 558.9 C130.92 569.13 143.12 581.15 147.7 587 C152.28 592.85 149.33 591.57 152.3 594 C155.27 596.43 160.88 598.35 165.5 601.6 C170.12 604.85 173.02 608.77 180 613.5 C186.98 618.23 202.28 626.92 207.4 630 C212.52 633.08 206.12 629.62 210.7 632 C215.28 634.38 227.98 641.07 234.9 644.3 C241.82 647.53 243.12 648.3 252.2 651.4 C261.28 654.5 274.02 658.93 289.4 662.9 C304.78 666.87 327.28 671.97 344.5 675.2 C361.72 678.43 380.08 680.48 392.7 682.3 C405.32 684.12 412.83 685.18 420.2 686.1 C427.57 687.02 426.5 686.97 436.9 687.8 C447.3 688.63 452.07 689.75 482.6 691.1 C513.13 692.45 597.18 695.1 620.1 695.9" fill="none" stroke="#FF00FF" stroke-width="2" stroke-linejoin="round"/>
<path d="M93.8 469.2L100.2 475.6M93.8 475.6L100.2 469.2" stroke="#FF00FF" stroke-width="1.6" fill="none"/>
<path d="M107.8 522.4L114.2 528.8M107.8 528.8L114.2 522.4" stroke="#FF00FF" stroke-width="1.6" fill="none"/>
<path d="M121.6 555.7L128 562.1M121.6 562.1L128 555.7" stroke="#FF00FF" stroke-width="1.6" fill="none"/>
<path d="M144.5 583.8L150.9 590.2M144.5 590.2L150.9 583.8" stroke="#FF00FF" stroke-width="1.6" fill="none"/>
<path d="M149.1 590.8L155.5 597.2M149.1 597.2L155.5 590.8" stroke="#FF00FF" stroke-width="1.6" fill="none"/>
<path d="M162.3 598.4L168.7 604.8M162.3 604.8L168.7 598.4" stroke="#FF00FF" stroke-width="1.6" fill="none"/>
<path d="M176.8 610.3L183.2 616.7M176.8 616.7L183.2 610.3" stroke="#FF00FF" stroke-width="1.6" fill="none"/>
<path d="M204.2 626.8L210.6 633.2M204.2 633.2L210.6 626.8" stroke="#FF00FF" stroke-width="1.6" fill="none"/>
<path d="M207.5 628.8L213.9 635.2M207.5 635.2L213.9 628.8" stroke="#FF00FF" stroke-width="1.6" fill="none"/>
<path d="M231.7 641.1L238.1 647.5M231.7 647.5L238.1 641.1" stroke="#FF00FF" stroke-width="1.6" fill="none"/>
<path d="M249 648.2L255.4 654.6M249 654.6L255.4 648.2" stroke="#FF00FF" stroke-width="1.6" fill="none"/>
<path d="M286.2 659.7L292.6 666.1M286.2 666.1L292.6 659.7" stroke="#FF00FF" stroke-width="1.6" fill="none"/>
<path d="M341.3 672L347.7 678.4M341.3 678.4L347.7 672" stroke="#FF00FF" stroke-width="1.6" fill="none"/>
<path d="M389.5 679.1L395.9 685.5M389.5 685.5L395.9 679.1" stroke="#FF00FF" stroke-width="1.6" fill="none"/>
<path d="M417 682.9L423.4 689.3M417 689.3L423.4 682.9" stroke="#FF00FF" stroke-width="1.6" fill="none"/>
<path d="M433.7 684.6L440.1 691M433.7 691L440.1 684.6" stroke="#FF00FF" stroke-width="1.6" fill="none"/>
<path d="M479.4 687.9L485.8 694.3M479.4 694.3L485.8 687.9" stroke="#FF00FF" stroke-width="1.6" fill="none"/>
<path d="M616.9 692.7L623.3 699.1M616.9 699.1L623.3 692.7" stroke="#FF00FF" stroke-width="1.6" fill="none"/>
<path d="M97 461 C99.33 468.1 106.37 490.97 111 503.6 C115.63 516.23 118.68 525.37 124.8 536.8 C130.92 548.23 143.12 565.15 147.7 572.2 C152.28 579.25 149.33 576.2 152.3 579.1 C155.27 582 160.88 585.83 165.5 589.6 C170.12 593.37 173.02 596.85 180 601.7 C186.98 606.55 202.28 615.57 207.4 618.7 C212.52 621.83 206.12 618.08 210.7 620.5 C215.28 622.92 227.98 629.97 234.9 633.2 C241.82 636.43 243.12 636.62 252.2 639.9 C261.28 643.18 274.02 648.4 289.4 652.9 C304.78 657.4 327.28 663.3 344.5 666.9 C361.72 670.5 380.08 672.5 392.7 674.5 C405.32 676.5 412.83 678.05 420.2 678.9 C427.57 679.75 426.5 678.73 436.9 679.6 C447.3 680.47 452.07 682.45 482.6 684.1 C513.13 685.75 597.18 688.6 620.1 689.5" fill="none" stroke="#0000FF" stroke-width="2" stroke-linejoin="round"/>
<circle cx="97" cy="461" r="3.2" fill="none" stroke="#0000FF" stroke-width="1.7"/>
<circle cx="111" cy="503.6" r="3.2" fill="none" stroke="#0000FF" stroke-width="1.7"/>
<circle cx="124.8" cy="536.8" r="3.2" fill="none" stroke="#0000FF" stroke-width="1.7"/>
<circle cx="147.7" cy="572.2" r="3.2" fill="none" stroke="#0000FF" stroke-width="1.7"/>
<circle cx="152.3" cy="579.1" r="3.2" fill="none" stroke="#0000FF" stroke-width="1.7"/>
<circle cx="165.5" cy="589.6" r="3.2" fill="none" stroke="#0000FF" stroke-width="1.7"/>
<circle cx="180" cy="601.7" r="3.2" fill="none" stroke="#0000FF" stroke-width="1.7"/>
<circle cx="207.4" cy="618.7" r="3.2" fill="none" stroke="#0000FF" stroke-width="1.7"/>
<circle cx="210.7" cy="620.5" r="3.2" fill="none" stroke="#0000FF" stroke-width="1.7"/>
<circle cx="234.9" cy="633.2" r="3.2" fill="none" stroke="#0000FF" stroke-width="1.7"/>
<circle cx="252.2" cy="639.9" r="3.2" fill="none" stroke="#0000FF" stroke-width="1.7"/>
<circle cx="289.4" cy="652.9" r="3.2" fill="none" stroke="#0000FF" stroke-width="1.7"/>
<circle cx="344.5" cy="666.9" r="3.2" fill="none" stroke="#0000FF" stroke-width="1.7"/>
<circle cx="392.7" cy="674.5" r="3.2" fill="none" stroke="#0000FF" stroke-width="1.7"/>
<circle cx="420.2" cy="678.9" r="3.2" fill="none" stroke="#0000FF" stroke-width="1.7"/>
<circle cx="436.9" cy="679.6" r="3.2" fill="none" stroke="#0000FF" stroke-width="1.7"/>
<circle cx="482.6" cy="684.1" r="3.2" fill="none" stroke="#0000FF" stroke-width="1.7"/>
<circle cx="620.1" cy="689.5" r="3.2" fill="none" stroke="#0000FF" stroke-width="1.7"/>
<path d="M97 449.8 C99.33 455 106.37 470.22 111 481 C115.63 491.78 118.68 503.03 124.8 514.5 C130.92 525.97 143.12 542.48 147.7 549.8 C152.28 557.12 149.33 554.58 152.3 558.4 C155.27 562.22 160.88 568.12 165.5 572.7 C170.12 577.28 173.02 579.95 180 585.9 C186.98 591.85 202.28 604.45 207.4 608.4 C212.52 612.35 206.12 607.23 210.7 609.6 C215.28 611.97 227.98 619.07 234.9 622.6 C241.82 626.13 243.12 627.33 252.2 630.8 C261.28 634.27 274.02 639.02 289.4 643.4 C304.78 647.78 327.28 653.35 344.5 657.1 C361.72 660.85 380.08 663.8 392.7 665.9 C405.32 668 412.83 668.68 420.2 669.7 C427.57 670.72 426.5 671.1 436.9 672 C447.3 672.9 452.07 673.45 482.6 675.1 C513.13 676.75 597.18 680.77 620.1 681.9" fill="none" stroke="#FF0000" stroke-width="2" stroke-linejoin="round"/>
<rect x="94.15" y="446.95" width="5.7" height="5.7" fill="none" stroke="#FF0000" stroke-width="1.95"/>
<rect x="108.15" y="478.15" width="5.7" height="5.7" fill="none" stroke="#FF0000" stroke-width="1.95"/>
<rect x="121.95" y="511.65" width="5.7" height="5.7" fill="none" stroke="#FF0000" stroke-width="1.95"/>
<rect x="144.85" y="546.95" width="5.7" height="5.7" fill="none" stroke="#FF0000" stroke-width="1.95"/>
<rect x="149.45" y="555.55" width="5.7" height="5.7" fill="none" stroke="#FF0000" stroke-width="1.95"/>
<rect x="162.65" y="569.85" width="5.7" height="5.7" fill="none" stroke="#FF0000" stroke-width="1.95"/>
<rect x="177.15" y="583.05" width="5.7" height="5.7" fill="none" stroke="#FF0000" stroke-width="1.95"/>
<rect x="204.55" y="605.55" width="5.7" height="5.7" fill="none" stroke="#FF0000" stroke-width="1.95"/>
<rect x="207.85" y="606.75" width="5.7" height="5.7" fill="none" stroke="#FF0000" stroke-width="1.95"/>
<rect x="232.05" y="619.75" width="5.7" height="5.7" fill="none" stroke="#FF0000" stroke-width="1.95"/>
<rect x="249.35" y="627.95" width="5.7" height="5.7" fill="none" stroke="#FF0000" stroke-width="1.95"/>
<rect x="286.55" y="640.55" width="5.7" height="5.7" fill="none" stroke="#FF0000" stroke-width="1.95"/>
<rect x="341.65" y="654.25" width="5.7" height="5.7" fill="none" stroke="#FF0000" stroke-width="1.95"/>
<rect x="389.85" y="663.05" width="5.7" height="5.7" fill="none" stroke="#FF0000" stroke-width="1.95"/>
<rect x="417.35" y="666.85" width="5.7" height="5.7" fill="none" stroke="#FF0000" stroke-width="1.95"/>
<rect x="434.05" y="669.15" width="5.7" height="5.7" fill="none" stroke="#FF0000" stroke-width="1.95"/>
<rect x="479.75" y="672.25" width="5.7" height="5.7" fill="none" stroke="#FF0000" stroke-width="1.95"/>
<rect x="617.25" y="679.05" width="5.7" height="5.7" fill="none" stroke="#FF0000" stroke-width="1.95"/>
<line x1="458.2" y1="28.7" x2="487.1" y2="28.7" stroke="#5B9BD5" stroke-width="2"/>
<circle cx="473" cy="28.7" r="3.85" fill="#5B9BD5"/>
<line x1="458.2" y1="51.9" x2="487.1" y2="51.9" stroke="#C00000" stroke-width="2"/>
<path d="M468.25 47.86L477.75 55.94M468.25 55.94L477.75 47.86M473 47.62L473 56.17" stroke="#C00000" stroke-width="1.8" fill="none"/>
<line x1="458.2" y1="75.1" x2="487.1" y2="75.1" stroke="#002060" stroke-width="2"/>
<circle cx="473" cy="75.1" r="3.6" fill="none" stroke="#002060" stroke-width="1.3"/>
<line x1="458.2" y1="98.3" x2="487.1" y2="98.3" stroke="#0000FF" stroke-width="2"/>
<path d="M469.1 94.4L476.9 102.2M469.1 102.2L476.9 94.4" stroke="#0000FF" stroke-width="1.7" fill="none"/>
<line x1="574.9" y1="28.7" x2="603.4" y2="28.7" stroke="#ED7D31" stroke-width="2.6"/>
<path d="M589.4 24.3L593.71 31.87L585.09 31.87Z" fill="#ED7D31"/>
<line x1="574.9" y1="51.9" x2="603.4" y2="51.9" stroke="#00B050" stroke-width="2"/>
<path d="M589.4 47.6L593.7 51.9L589.4 56.2L585.1 51.9Z" fill="#00B050"/>
<line x1="574.9" y1="75.1" x2="603.4" y2="75.1" stroke="#FF00FF" stroke-width="2"/>
<rect x="585.45" y="71.15" width="7.9" height="7.9" fill="#FF00FF"/>
<line x1="574.9" y1="98.3" x2="603.4" y2="98.3" stroke="#FF0000" stroke-width="2"/>
<rect x="586" y="94.9" width="6.8" height="6.8" fill="none" stroke="#FF0000" stroke-width="1.6"/>
<line x1="443" y1="475.5" x2="470.3" y2="475.5" stroke="#0000FF" stroke-width="2"/>
<circle cx="457.2" cy="475.5" r="3.3" fill="#0000FF"/>
<line x1="443" y1="500.1" x2="470.3" y2="500.1" stroke="#C00000" stroke-width="2"/>
<path d="M453.9 497.3L460.5 502.91M453.9 502.91L460.5 497.3M457.2 497.13L457.2 503.07" stroke="#C00000" stroke-width="1.6" fill="none"/>
<line x1="443" y1="524.7" x2="470.3" y2="524.7" stroke="#404040" stroke-width="1.6"/>
<rect x="453.7" y="521.2" width="7" height="7" fill="#404040"/>
<line x1="443" y1="549.3" x2="470.3" y2="549.3" stroke="#0000FF" stroke-width="2"/>
<circle cx="457.2" cy="549.3" r="3" fill="none" stroke="#0000FF" stroke-width="1.5"/>
<line x1="555" y1="475.7" x2="582.7" y2="475.7" stroke="#FFC000" stroke-width="2"/>
<path d="M568.7 471.2L573.11 478.94L564.29 478.94Z" fill="#FFC000"/>
<line x1="555" y1="500.3" x2="582.7" y2="500.3" stroke="#00B050" stroke-width="2"/>
<path d="M568.7 496.3L572.7 500.3L568.7 504.3L564.7 500.3Z" fill="#00B050"/>
<line x1="555" y1="524.9" x2="582.7" y2="524.9" stroke="#FF00FF" stroke-width="2"/>
<path d="M565.6 521.8L571.8 528M565.6 528L571.8 521.8" stroke="#FF00FF" stroke-width="1.5" fill="none"/>
<line x1="555" y1="549.6" x2="582.7" y2="549.6" stroke="#FF0000" stroke-width="2"/>
<rect x="565.7" y="546.6" width="6" height="6" fill="none" stroke="#FF0000" stroke-width="1.5"/>
<g font-family="Liberation Sans, sans-serif" font-weight="bold" fill="#000">
<text x="72.1" y="11.3" font-size="12" text-anchor="end" textLength="33.7" lengthAdjust="spacingAndGlyphs">0.215</text>
<text x="72.1" y="47.49" font-size="12" text-anchor="end" textLength="33.7" lengthAdjust="spacingAndGlyphs">0.195</text>
<text x="72.1" y="83.68" font-size="12" text-anchor="end" textLength="33.7" lengthAdjust="spacingAndGlyphs">0.175</text>
<text x="72.1" y="119.87" font-size="12" text-anchor="end" textLength="33.7" lengthAdjust="spacingAndGlyphs">0.155</text>
<text x="72.1" y="156.06" font-size="12" text-anchor="end" textLength="33.7" lengthAdjust="spacingAndGlyphs">0.135</text>
<text x="72.1" y="192.25" font-size="12" text-anchor="end" textLength="33.7" lengthAdjust="spacingAndGlyphs">0.115</text>
<text x="72.1" y="228.44" font-size="12" text-anchor="end" textLength="33.7" lengthAdjust="spacingAndGlyphs">0.095</text>
<text x="72.1" y="264.63" font-size="12" text-anchor="end" textLength="33.7" lengthAdjust="spacingAndGlyphs">0.075</text>
<text x="72.1" y="300.82" font-size="12" text-anchor="end" textLength="33.7" lengthAdjust="spacingAndGlyphs">0.055</text>
<text x="72.1" y="337.01" font-size="12" text-anchor="end" textLength="33.7" lengthAdjust="spacingAndGlyphs">0.035</text>
<text x="87" y="355.2" font-size="12" text-anchor="middle" textLength="25.5" lengthAdjust="spacingAndGlyphs">0.05</text>
<text x="225.63" y="355.2" font-size="12" text-anchor="middle" textLength="25.5" lengthAdjust="spacingAndGlyphs">0.55</text>
<text x="364.26" y="355.2" font-size="12" text-anchor="middle" textLength="25.5" lengthAdjust="spacingAndGlyphs">1.05</text>
<text x="502.89" y="355.2" font-size="12" text-anchor="middle" textLength="25.5" lengthAdjust="spacingAndGlyphs">1.55</text>
<text x="641.52" y="355.2" font-size="12" text-anchor="middle" textLength="25.5" lengthAdjust="spacingAndGlyphs">2.05</text>
<text x="348.8" y="381" font-size="17.3" text-anchor="middle" textLength="111" lengthAdjust="spacingAndGlyphs">Energy (MeV)</text>
<text transform="translate(17.8 175) rotate(-90)" font-size="17.5" text-anchor="middle" textLength="101.5" lengthAdjust="spacingAndGlyphs">MAC (g/cm2)</text>
<text x="318.3" y="27.8" font-size="17.2" text-anchor="middle">(a)</text>
<text x="489.9" y="33.1" font-size="12" text-anchor="start" textLength="6.9" lengthAdjust="spacingAndGlyphs">P</text>
<text x="489.9" y="56.3" font-size="12" text-anchor="start" textLength="31" lengthAdjust="spacingAndGlyphs">PCF1</text>
<text x="489.9" y="79.5" font-size="12" text-anchor="start" textLength="23.6" lengthAdjust="spacingAndGlyphs">PS2</text>
<text x="489.9" y="102.7" font-size="12" text-anchor="start" textLength="46.8" lengthAdjust="spacingAndGlyphs">PS2CF1</text>
<text x="606.6" y="33.1" font-size="12" text-anchor="start" textLength="43.6" lengthAdjust="spacingAndGlyphs">PCF0.5</text>
<text x="606.6" y="56.3" font-size="12" text-anchor="start" textLength="43.6" lengthAdjust="spacingAndGlyphs">PCF1.5</text>
<text x="606.6" y="79.5" font-size="12" text-anchor="start" textLength="58.6" lengthAdjust="spacingAndGlyphs">PS2CF0.5</text>
<text x="606.6" y="102.7" font-size="12" text-anchor="start" textLength="58.6" lengthAdjust="spacingAndGlyphs">PS2CF1.5</text>
<text x="70.3" y="465.2" font-size="11.3" text-anchor="end" textLength="32.5" lengthAdjust="spacingAndGlyphs">0.285</text>
<text x="70.3" y="520.8" font-size="11.3" text-anchor="end" textLength="32.5" lengthAdjust="spacingAndGlyphs">0.235</text>
<text x="70.3" y="576.4" font-size="11.3" text-anchor="end" textLength="32.5" lengthAdjust="spacingAndGlyphs">0.185</text>
<text x="70.3" y="632" font-size="11.3" text-anchor="end" textLength="32.5" lengthAdjust="spacingAndGlyphs">0.135</text>
<text x="70.3" y="687.6" font-size="11.3" text-anchor="end" textLength="32.5" lengthAdjust="spacingAndGlyphs">0.085</text>
<text x="70.3" y="743.2" font-size="11.3" text-anchor="end" textLength="32.5" lengthAdjust="spacingAndGlyphs">0.035</text>
<text x="84" y="761.4" font-size="11.3" text-anchor="middle" textLength="25.2" lengthAdjust="spacingAndGlyphs">0.05</text>
<text x="221.48" y="761.4" font-size="11.3" text-anchor="middle" textLength="25.2" lengthAdjust="spacingAndGlyphs">0.55</text>
<text x="358.96" y="761.4" font-size="11.3" text-anchor="middle" textLength="25.2" lengthAdjust="spacingAndGlyphs">1.05</text>
<text x="496.44" y="761.4" font-size="11.3" text-anchor="middle" textLength="25.2" lengthAdjust="spacingAndGlyphs">1.55</text>
<text x="633.92" y="761.4" font-size="11.3" text-anchor="middle" textLength="25.2" lengthAdjust="spacingAndGlyphs">2.05</text>
<text x="358.5" y="784.6" font-size="17" text-anchor="middle" textLength="105.5" lengthAdjust="spacingAndGlyphs">Energy (MeV)</text>
<text transform="translate(25 595.4) rotate(-90)" font-size="17" text-anchor="middle" textLength="97.5" lengthAdjust="spacingAndGlyphs">MAC (g/cm2)</text>
<text x="344.3" y="457.3" font-size="17.2" text-anchor="middle">(b)</text>
<text x="472.6" y="479.6" font-size="11.2" text-anchor="start" textLength="6.6" lengthAdjust="spacingAndGlyphs">P</text>
<text x="472.6" y="504.2" font-size="11.2" text-anchor="start" textLength="28.2" lengthAdjust="spacingAndGlyphs">PCF1</text>
<text x="472.6" y="528.8" font-size="11.2" text-anchor="start" textLength="21.6" lengthAdjust="spacingAndGlyphs">PS3</text>
<text x="472.6" y="553.4" font-size="11.2" text-anchor="start" textLength="54.2" lengthAdjust="spacingAndGlyphs">PS3CF1.5</text>
<text x="585.2" y="479.8" font-size="11.2" text-anchor="start" textLength="39.8" lengthAdjust="spacingAndGlyphs">PCF0.5</text>
<text x="585.2" y="504.4" font-size="11.2" text-anchor="start" textLength="39.8" lengthAdjust="spacingAndGlyphs">PCF1.5</text>
<text x="585.2" y="529" font-size="11.2" text-anchor="start" textLength="54.2" lengthAdjust="spacingAndGlyphs">PS3CF0.5</text>
<text x="585.2" y="553.7" font-size="11.2" text-anchor="start" textLength="54.2" lengthAdjust="spacingAndGlyphs">PS3CF1.5</text>
</g>
</svg>
</body></html>
